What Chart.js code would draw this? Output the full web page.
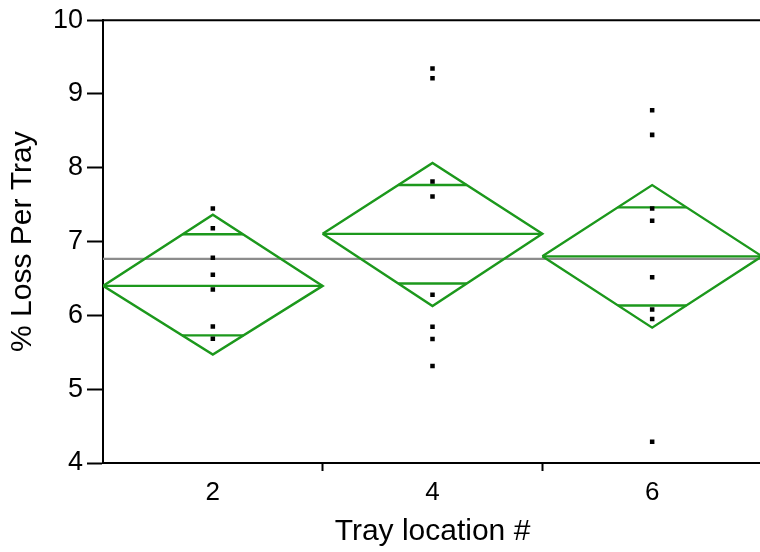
<!DOCTYPE html>
<html>
<head>
<meta charset="utf-8">
<script src="https://cdn.jsdelivr.net/npm/chart.js@4/dist/chart.umd.min.js"></script>
<style>
  html, body { margin: 0; padding: 0; background: #fff; overflow: hidden; }
  #wrap { width: 768px; height: 552px; }
</style>
</head>
<body>
<div id="wrap"><canvas id="c" width="768" height="552"></canvas></div>
<script>
// ---- data ----
const categories = ['2', '4', '6'];
const groupMeans = [6.40, 7.105, 6.80];
const diamondTops = [7.365, 8.065, 7.766];
const diamondBottoms = [5.47, 6.128, 5.834];
const upperMarks = [7.10, 7.766, 7.464];
const lowerMarks = [5.73, 6.432, 6.135];
const grandMean = 6.767;
const lossTray2 = [7.45, 7.18, 6.78, 6.55, 6.35, 5.85, 5.685];
const lossTray4 = [9.347, 9.212, 7.815, 7.612, 6.28, 5.847, 5.68, 5.315];
const lossTray6 = [8.78, 8.446, 7.45, 7.284, 6.518, 6.081, 5.95, 4.288];
const yTicks = [4, 5, 6, 7, 8, 9, 10];

const GREEN = 'rgb(28,152,28)';
const GRAY = 'rgb(140,140,140)';
const FONT = '"Liberation Sans", Arial, sans-serif';

const datasets = [];
// grand mean line
datasets.push({
  data: [{x: -0.5, y: grandMean}, {x: 2.5, y: grandMean}],
  borderColor: GRAY, borderWidth: 2.2, pointRadius: 0, showLine: true, order: 5
});
categories.forEach((c, i) => {
  // diamond outline
  datasets.push({
    data: [
      {x: i - 0.5, y: groupMeans[i]}, {x: i, y: diamondTops[i]},
      {x: i + 0.5, y: groupMeans[i]}, {x: i, y: diamondBottoms[i]},
      {x: i - 0.5, y: groupMeans[i]}
    ],
    borderColor: GREEN, borderWidth: 2.4, pointRadius: 0, showLine: true, order: 4
  });
  // mean line
  datasets.push({
    data: [{x: i - 0.5, y: groupMeans[i]}, {x: i + 0.5, y: groupMeans[i]}],
    borderColor: GREEN, borderWidth: 2.4, pointRadius: 0, showLine: true, order: 4
  });
  // overlap marks, spanning the diamond at their height
  const wU = 0.5 * (1 - (upperMarks[i] - groupMeans[i]) / (diamondTops[i] - groupMeans[i]));
  const wL = 0.5 * (1 - (groupMeans[i] - lowerMarks[i]) / (groupMeans[i] - diamondBottoms[i]));
  datasets.push({
    data: [{x: i - wU, y: upperMarks[i]}, {x: i + wU, y: upperMarks[i]}],
    borderColor: GREEN, borderWidth: 2.4, pointRadius: 0, showLine: true, order: 4
  });
  datasets.push({
    data: [{x: i - wL, y: lowerMarks[i]}, {x: i + wL, y: lowerMarks[i]}],
    borderColor: GREEN, borderWidth: 2.4, pointRadius: 0, showLine: true, order: 4
  });
});
[lossTray2, lossTray4, lossTray6].forEach((arr, i) => {
  datasets.push({
    data: arr.map(v => ({x: i, y: v})),
    showLine: false, pointStyle: 'rect', pointRadius: 3.2, pointBorderWidth: 0,
    pointBackgroundColor: '#000', borderColor: '#000', order: 1
  });
});

const frameTop = {
  id: 'frameTop',
  afterDraw(chart) {
    const {ctx, chartArea} = chart;
    ctx.save();
    ctx.strokeStyle = '#000';
    ctx.lineWidth = 2;
    ctx.beginPath();
    ctx.moveTo(chartArea.left - 1, chartArea.top);
    ctx.lineTo(chartArea.right, chartArea.top);
    ctx.stroke();
    ctx.restore();
  }
};

const xTickPositions = [-0.5, 0, 0.5, 1, 1.5, 2, 2.5];

new Chart(document.getElementById('c'), {
  type: 'scatter',
  data: { datasets },
  plugins: [frameTop],
  options: {
    responsive: false,
    animation: false,
    layout: { padding: { top: 19, left: 0, right: 0, bottom: 0 } },
    plugins: { legend: { display: false }, tooltip: { enabled: false } },
    elements: { line: { tension: 0, fill: false } },
    scales: {
      x: {
        type: 'linear', min: -0.5, max: 2.5,
        afterBuildTicks: s => { s.ticks = xTickPositions.map(v => ({value: v})); },
        afterFit: s => { s.height = 89; },
        ticks: {
          autoSkip: false, maxRotation: 0, minRotation: 0, padding: 6,
          color: '#000', font: { family: FONT, size: 26 },
          callback: v => (Number.isInteger(v) ? categories[v] : '')
        },
        grid: {
          drawOnChartArea: false, tickLength: 8, tickWidth: 2,
          tickColor: ctx => (ctx.tick && !Number.isInteger(ctx.tick.value) && ctx.tick.value > -0.5) ? '#000' : 'rgba(0,0,0,0)'
        },
        border: { color: '#000', width: 2 },
        title: {
          display: true, text: 'Tray location #', color: '#000',
          font: { family: FONT, size: 30 }, padding: { top: 0, bottom: 2 }
        }
      },
      y: {
        min: 4, max: 10,
        afterBuildTicks: s => { s.ticks = yTicks.map(v => ({value: v})); },
        afterFit: s => { s.width = 103; },
        ticks: { padding: 4, color: '#000', font: { family: FONT, size: 27 } },
        grid: { drawOnChartArea: false, tickLength: 16, tickWidth: 2, tickColor: '#000' },
        border: { color: '#000', width: 2 },
        title: {
          display: true, text: '% Loss Per Tray', color: '#000',
          font: { family: FONT, size: 30 }, padding: { top: 5, bottom: 0 }
        }
      }
    }
  }
});
</script>
</body>
</html>
